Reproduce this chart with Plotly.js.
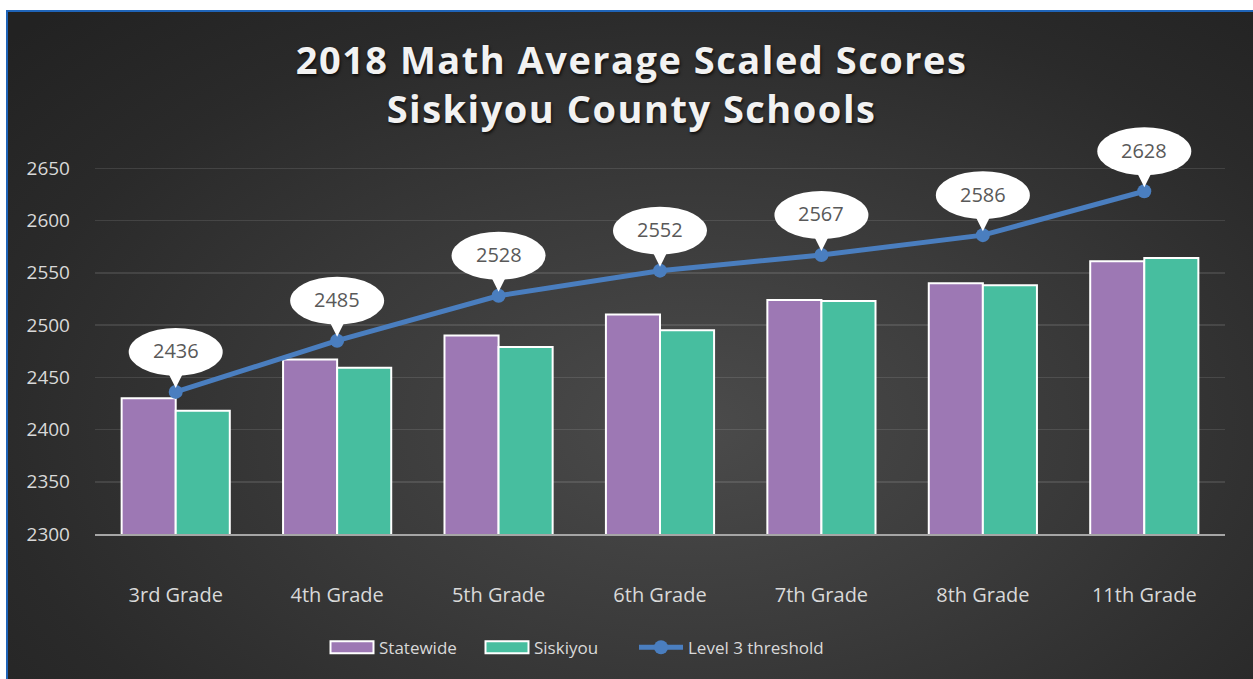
<!DOCTYPE html>
<html>
<head>
<meta charset="utf-8">
<script src="https://cdn.plot.ly/plotly-3.0.1.min.js"></script>
<style>
  html, body { margin: 0; padding: 0; background: #ffffff; }
  #wrap { position: relative; width: 1253px; height: 679px; overflow: hidden; }
  #bg { position: absolute; left: 6px; top: 10px; right: 0; bottom: 0;
        border-left: 2px solid #1f64b8; border-top: 2px solid #1f64b8;
        background: radial-gradient(ellipse 75% 85% at 55% 62%, #4b4b4b 0%, #3a3a3a 40%, #2a2a2a 75%, #222222 100%); }
  #chart { position: absolute; left: 0; top: 0; width: 1253px; height: 679px; }
  .gtitle { letter-spacing: 1.5px; }
</style>
</head>
<body>
<div id="wrap">
  <div id="bg"></div>
  <div id="chart"></div>
</div>
<script>
const grades = ["3rd Grade", "4th Grade", "5th Grade", "6th Grade", "7th Grade", "8th Grade", "11th Grade"];
const statewide = [2430, 2467, 2490, 2510, 2524, 2540, 2561];
const siskiyou = [2418, 2459, 2479, 2495, 2523, 2538, 2564];
const level3 = [2436, 2485, 2528, 2552, 2567, 2586, 2628];
const yTicks = [2300, 2350, 2400, 2450, 2500, 2550, 2600, 2650];

const FONT = "Open Sans, Noto Sans, sans-serif";

const traces = [
  { type: "bar", name: "Statewide", x: grades, y: statewide, legend: "legend",
    marker: { color: "#9d78b4", line: { color: "#ffffff", width: 2 } } },
  { type: "bar", name: "Siskiyou", x: grades, y: siskiyou, legend: "legend",
    marker: { color: "#47be9f", line: { color: "#ffffff", width: 2 } } },
  { type: "scatter", mode: "lines+markers", name: "Level 3 threshold", x: grades, y: level3,
    legend: "legend2",
    line: { color: "#4a7ebf", width: 5 },
    marker: { color: "#4a7ebf", size: 14 } }
];

const shapes = [];
const annotations = [];
level3.forEach((v, i) => {
  shapes.push({ type: "circle", xref: "x", yref: "y", xsizemode: "pixel", ysizemode: "pixel",
    xanchor: i, yanchor: v, x0: -47, x1: 47, y0: 16, y1: 64,
    fillcolor: "#ffffff", line: { width: 0 }, layer: "above" });
  shapes.push({ type: "path", xref: "x", yref: "y", xsizemode: "pixel", ysizemode: "pixel",
    xanchor: i, yanchor: v, path: "M -9 22 L 9 22 L 0 4 Z",
    fillcolor: "#ffffff", line: { width: 0 }, layer: "above" });
  annotations.push({ x: grades[i], y: v, xref: "x", yref: "y", text: String(v),
    showarrow: false, yshift: 41, font: { family: FONT, size: 20, color: "#595959" } });
});

const legendFont = { family: FONT, size: 17, color: "#d9d9d9" };

const layout = {
  width: 1253, height: 679,
  paper_bgcolor: "rgba(0,0,0,0)", plot_bgcolor: "rgba(0,0,0,0)",
  margin: { l: 95, r: 28, t: 116, b: 145 },
  title: { text: "2018 Math Average Scaled Scores<br>Siskiyou County Schools",
    x: 0.504, xanchor: "center", y: 0.891, yanchor: "middle", yref: "container",
    font: { family: FONT, size: 38, color: "#f2f2f2", weight: 700,
      shadow: "1px 2px 3px rgba(0,0,0,0.7)" } },
  barmode: "group", bargap: 0.33, bargroupgap: 0,
  xaxis: { type: "category", showgrid: false, zeroline: false, showline: true,
    linecolor: "#a6a6a6", linewidth: 2, ticks: "", ticklabelstandoff: 42,
    tickfont: { family: FONT, size: 20, color: "#d9d9d9" } },
  yaxis: { range: [2300, 2700], tickvals: yTicks, ticktext: yTicks.map(String),
    showgrid: true, gridcolor: "rgba(255,255,255,0.11)", gridwidth: 1.5, zeroline: false, showline: false,
    ticks: "", ticklabelstandoff: 24,
    tickfont: { family: FONT, size: 19, color: "#d9d9d9" } },
  legend: { orientation: "h", x: 325 / 1253, xanchor: "left", xref: "container",
    y: 0.046, yanchor: "middle", yref: "container",
    font: legendFont, itemwidth: 44, entrywidth: 96, traceorder: "normal" },
  legend2: { orientation: "h", x: 634 / 1253, xanchor: "left", xref: "container",
    y: 0.046, yanchor: "middle", yref: "container",
    font: legendFont, itemwidth: 44 },
  shapes: shapes,
  annotations: annotations,
  showlegend: true
};

Plotly.newPlot("chart", traces, layout, { displayModeBar: false, staticPlot: true }).then(gd => {
  const items = gd.querySelectorAll(".legend .traces");
  items.forEach(item => {
    const txt = item.querySelector(".legendtext");
    if (!txt) return;
    const name = txt.textContent;
    if (name === "Statewide" || name === "Siskiyou") {
      item.querySelectorAll(".legendpoints path").forEach(p => {
        p.setAttribute("d", "M-21.5,6H21.5V-6H-21.5Z");
        p.style.strokeWidth = "2px";
        p.style.stroke = "#ffffff";
      });
    }
  });
});
</script>
</body>
</html>
